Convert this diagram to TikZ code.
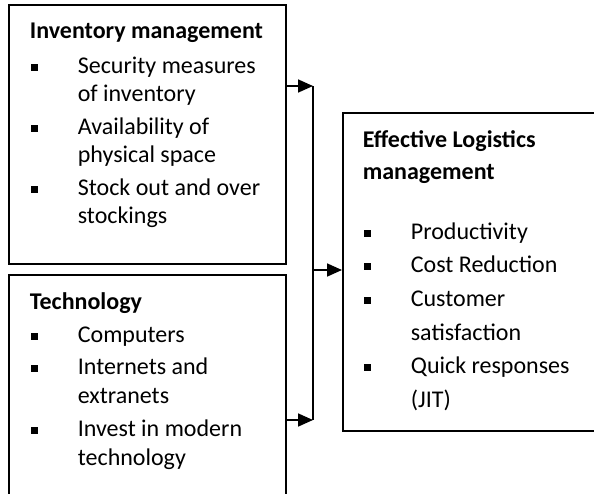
\documentclass[tikz,border=0pt]{standalone}
\usepackage{fontspec}
\setmainfont{Carlito}
\usepackage{tikz}
\usetikzlibrary{arrows.meta,positioning}

\newcommand{\bul}{\makebox[48pt][l]{\hspace{1pt}\rule[2.5pt]{7pt}{7pt}}}
\newcommand{\ind}{\hspace*{48pt}}

\begin{document}
\begin{tikzpicture}[x=1pt,y=-1pt,>={Triangle[length=15pt,width=13pt]},line width=1.7pt,
  box/.style={draw,anchor=north west,inner sep=0pt},
  txt/.style={anchor=base west,inner sep=0pt,font=\fontsize{24}{29}\selectfont}]

\useasboundingbox (0,0) rectangle (594,493);
\clip (0,0) rectangle (594,493);

% boxes
\node[box, minimum width=277pt, minimum height=259pt] (inv)  at (8,4)    {};
\node[box, minimum width=277pt, minimum height=240pt] (tech) at (8,274)  {};
\node[box, minimum width=260pt, minimum height=318pt] (elm)  at (342,112) {};

% texts
\node[txt] (invtxt) at (29,38) {\parbox[t]{260pt}{\fontsize{24}{28}\selectfont
  \textbf{Inventory management}\\[7pt]
  \bul Security measures\\
  \ind of inventory\\[5pt]
  \bul Availability of\\
  \ind physical space\\[5pt]
  \bul Stock out and over\\
  \ind stockings}};

\node[txt] (techtxt) at (29,309) {\parbox[t]{260pt}{%
  \textbf{Technology}\\[4pt]
  \bul Computers\\[3pt]
  \bul Internets and\\
  \ind extranets\\[4pt]
  \bul Invest in modern\\
  \ind technology}};

\node[txt] (elmtxt) at (362,147) {\parbox[t]{240pt}{\fontsize{24}{33.6}\selectfont
  \textbf{Effective Logistics}\\[-1pt]
  \textbf{management}\\[26pt]
  \bul Productivity\\
  \bul Cost Reduction\\
  \bul Customer\\
  \ind satisfaction\\
  \bul Quick responses\\
  \ind (JIT)}};

% connectors
\coordinate (jtop) at (313,86);
\coordinate (jbot) at (313,420);
\coordinate (jmid) at (313,270);

\draw[->] (jtop -| inv.east) -- (jtop);
\draw[->] (jbot -| tech.east) -- (jbot);
\draw (jtop) -- (jbot);
\draw[->] (jmid) -- (jmid -| elm.west);

\end{tikzpicture}
\end{document}
